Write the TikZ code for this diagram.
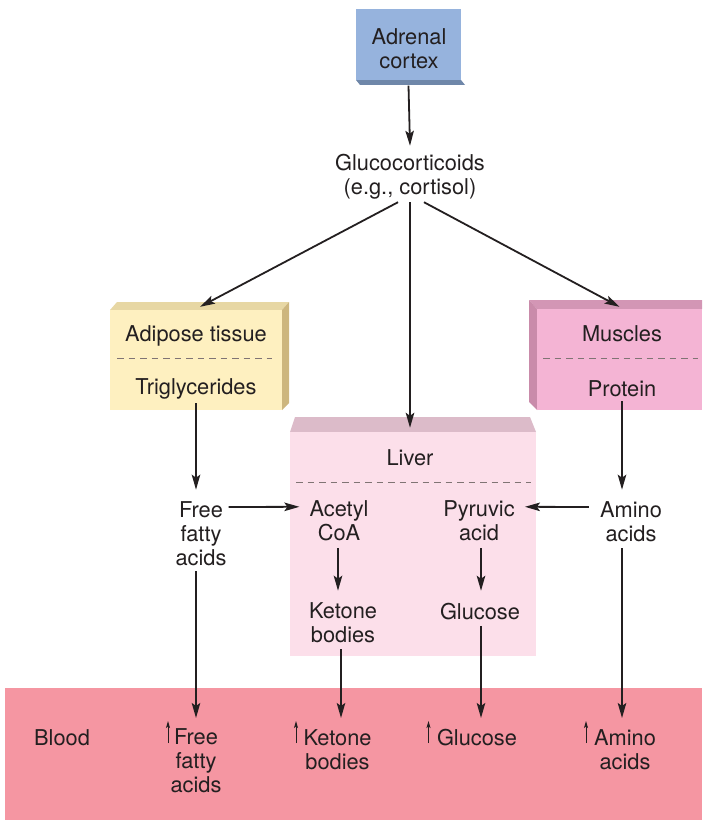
\documentclass[tikz,border=0pt]{standalone}
\usepackage{fontspec}
\setmainfont{TeX Gyre Heros}
\usetikzlibrary{arrows.meta,calc}
\definecolor{ink}{HTML}{231F20}
\definecolor{adrenalfront}{HTML}{96B3DD}
\definecolor{adrenaldark}{HTML}{6F87A9}
\definecolor{adiposefront}{HTML}{FEF0C0}
\definecolor{adiposetop}{HTML}{E7D7A4}
\definecolor{adiposeside}{HTML}{CDB67E}
\definecolor{musclefront}{HTML}{F4B4D4}
\definecolor{muscletop}{HTML}{D396B5}
\definecolor{muscleside}{HTML}{C98BAA}
\definecolor{liverfront}{HTML}{FCDFEA}
\definecolor{livertop}{HTML}{DCBBC9}
\definecolor{bloodband}{HTML}{F596A2}
\definecolor{sepgray}{HTML}{807474}
\begin{document}
\begin{tikzpicture}[x=1pt,y=-1pt,
  txt/.style={font=\fontsize{21.8}{24}\selectfont, text=ink, align=center, inner sep=2pt},
  arr/.style={draw=ink, line width=1.8pt, -{Stealth[length=15pt,width=8.5pt,inset=3pt]}},
  uparr/.style={draw=ink, line width=1pt, -{Stealth[length=7pt,width=4pt,inset=1.5pt]}},
  sepline/.style={draw=sepgray, line width=0.9pt, dash pattern=on 6.5pt off 5pt},
  face/.style={inner sep=0pt, draw=none}
]
\useasboundingbox (0,0) rectangle (702,821);

% ---------- Adrenal cortex ----------
\fill[adrenaldark] (356,80) -- (461,80) -- (465,85) -- (360,85) -- cycle;
\node[face, fill=adrenalfront, minimum width=105pt, minimum height=71pt] (adrenal) at (408.5,45) {};
\node[txt] (adrenaltxt) at (409,49) {Adrenal\\cortex};

% ---------- Glucocorticoids ----------
\node[txt] (gluco) at (410,176.5) {Glucocorticoids\\(e.g., cortisol)};

% ---------- Adipose tissue ----------
\fill[adiposetop] (110,310) -- (117,302) -- (289,302) -- (282,310) -- cycle;
\fill[adiposeside] (282,310) -- (289,302) -- (289,403) -- (282,410) -- cycle;
\node[face, fill=adiposefront, minimum width=172pt, minimum height=100pt] (adipose) at (196,360) {};
\node[txt] (adtxt) at (196,336.3) {Adipose tissue};
\node[txt] (trig) at (196,388.9) {Triglycerides};
\draw[sepline] (117,358.5) -- (272,358.5);

% ---------- Muscles ----------
\fill[muscletop] (529,300) -- (702,300) -- (702,309) -- (537,309) -- cycle;
\fill[muscleside] (529,300) -- (537,309) -- (537,410) -- (529,402) -- cycle;
\node[face, fill=musclefront, minimum width=165pt, minimum height=101pt] (muscles) at (619.5,359.5) {};
\node[txt] (mustxt) at (622,334) {Muscles};
\node[txt] (protein) at (622,388.9) {Protein};
\draw[sepline] (543,358.5) -- (698,358.5);

% ---------- Liver ----------
\fill[livertop] (290,432) -- (295,417) -- (530,417) -- (536,432) -- cycle;
\node[face, fill=liverfront, minimum width=246pt, minimum height=224pt] (liver) at (413,544) {};
\node[txt] (livertxt) at (410,457.4) {Liver};
\draw[sepline] (296,482) -- (531,482);
\node[txt] (acetyl) at (339,520.8) {Acetyl\\CoA};
\node[txt] (pyruvic) at (479,520.8) {Pyruvic\\acid};
\node[txt] (ketone) at (343,623) {Ketone\\bodies};
\node[txt] (glucose) at (480,611.3) {Glucose};

% ---------- Free fatty acids / Amino acids ----------
\node[txt] (ffa) at (201,534) {Free\\fatty\\acids};
\node[txt] (amino) at (631,522) {Amino\\acids};

% ---------- Blood ----------
\node[face, fill=bloodband, minimum width=697pt, minimum height=132pt] (blood) at (353.5,754) {};
\coordinate (tipline) at (0,718);
\node[txt] (bloodtxt) at (62,738) {Blood};
\node[txt] (bffa) at (196,761) {Free\\fatty\\acids};
\node[txt] (bket) at (337.5,749.9) {Ketone\\bodies};
\node[txt] (bglu) at (477,737.9) {Glucose};
\node[txt] (bami) at (625,749.9) {Amino\\acids};

\coordinate (u1) at (168,743);
\coordinate (u2) at (296,743);
\coordinate (u3) at (428.5,743);
\coordinate (u4) at (586,743);
\foreach \u in {u1,u2,u3,u4}
  \draw[uparr] (\u) -- ++(0,-22);

% ---------- Connectors ----------
\draw[arr] ([yshift=-5pt]adrenal.south) -- ([yshift=6pt]gluco.north);
\draw[arr] ([xshift=-12pt,yshift=-1pt]gluco.south) -- ([xshift=4pt,yshift=3pt]adipose.north);
\draw[arr] ([yshift=-1pt]gluco.south) -- ([yshift=4pt]gluco.south |- liver.north);
\draw[arr] ([xshift=14pt,yshift=-1pt]gluco.south) -- ([yshift=2pt]muscles.north);

\draw[arr] ([yshift=-2pt]trig.south) -- ([yshift=10pt]trig.south |- ffa.north);
\draw[arr] ([yshift=-2pt]protein.south) -- ([yshift=10pt]protein.south |- amino.north);

\draw[arr] ([yshift=27pt]ffa.east) -- ([xshift=-8pt,yshift=14pt]acetyl.west);
\draw[arr] ([xshift=-9pt,yshift=15pt]amino.west) -- ([xshift=8pt,yshift=14pt]pyruvic.east);

\draw[arr] ([xshift=-1pt,yshift=-5pt]acetyl.south) -- ([xshift=-1pt,yshift=10pt]acetyl.south |- ketone.north);
\draw[arr] ([xshift=2pt,yshift=-5pt]pyruvic.south) -- ([xshift=2pt,yshift=10pt]pyruvic.south |- glucose.north);

\draw[arr] ([yshift=-3pt]trig.south |- ffa.south) -- (trig.south |- tipline);
\draw[arr] ([xshift=-2pt,yshift=-4pt]ketone.south) -- ([xshift=-2pt]ketone.south |- tipline);
\draw[arr] ([xshift=1pt,yshift=-4pt]glucose.south) -- ([xshift=1pt]glucose.south |- tipline);
\draw[arr] ([yshift=-4pt]protein.south |- amino.south) -- (protein.south |- tipline);
\end{tikzpicture}
\end{document}
